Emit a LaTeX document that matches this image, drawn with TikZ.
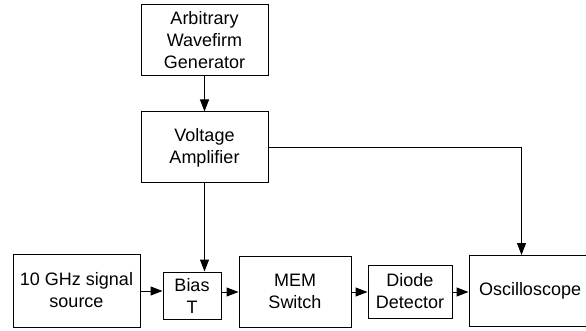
\documentclass[tikz,border=0pt]{standalone}
\usepackage{fontspec}
\setmainfont{Liberation Sans}
\usepackage{tikz}
\usetikzlibrary{positioning,calc,arrows.meta}

\begin{document}
\begin{tikzpicture}[x=1pt, y=-1pt,
    blk/.style={draw, line width=1pt, align=center, inner sep=0pt,
      font=\fontsize{18}{22}\selectfont},
    conn/.style={line width=1pt, -{Triangle[length=12pt,width=9pt]}}]
    \useasboundingbox (0,0) rectangle (586,331);
    % upper chain
    \node[blk, minimum width=127pt, minimum height=71pt] (awg) at (204.5,40.5) {Arbitrary\\Wavefirm\\Generator};
    \node[blk, minimum width=127pt, minimum height=71pt] (amp) at (204.5,147.5) {Voltage\\Amplifier};
    % signal path
    \node[blk, minimum width=127pt, minimum height=73pt] (src) at (76.5,290.5) {10 GHz signal\\source};
    \node[blk, minimum width=58pt, minimum height=47pt] (bias) at (192,295.5) {Bias\\T};
    \node[blk, minimum width=112pt, minimum height=71pt] (mem) at (295,291.5) {MEM\\Switch};
    \node[blk, minimum width=84pt, minimum height=53pt] (diode) at (410,291.5) {Diode\\Detector};
    \node[blk, minimum width=124pt, minimum height=71pt, text width=122pt, align=left] (osc) at (531,290.5) {\hspace{9pt}Oscilloscope};
    \coordinate (osctop) at (521.5,255);

    \draw[conn] (awg.south) -- (amp.north);
    \draw[conn] (amp.south) -- (amp.south |- bias.north);
    \draw[conn] (amp.east) -| (osctop);
    \draw[conn] (src.east |- 0,291) -- (bias.west |- 0,291);
    \draw[conn] (bias.east |- 0,292) -- (mem.west |- 0,292);
    \draw[conn] (mem.east |- 0,292) -- (diode.west |- 0,292);
    \draw[conn] (diode.east |- 0,292) -- (osc.west |- 0,292);
\end{tikzpicture}
\end{document}
